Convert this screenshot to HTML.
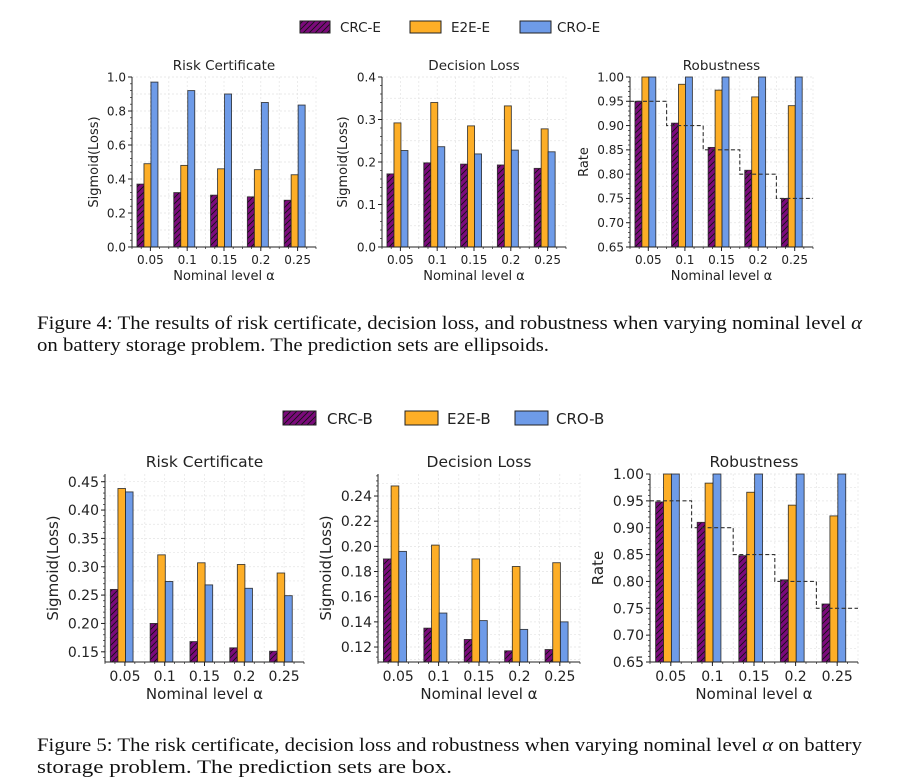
<!DOCTYPE html>
<html><head><meta charset="utf-8"><style>
body{margin:0;background:#fff;width:910px;height:778px;overflow:hidden}
svg{display:block}
.t{font-family:"DejaVu Sans","Liberation Sans",sans-serif;fill:#222}
.cap{font-family:"Liberation Serif",serif;font-size:19px;fill:#111}
</style></head><body>
<svg id="fig" width="910" height="778" xmlns="http://www.w3.org/2000/svg">
<defs>
<pattern id="hatch" patternUnits="userSpaceOnUse" width="6" height="6">
<rect width="6" height="6" fill="#7b0a7b"/>
<path d="M-1,7 L7,-1 M-1,1 L1,-1 M5,7 L7,5" stroke="#111" stroke-width="0.9"/>
</pattern>
</defs>
<g>
<rect x="300" y="21" width="30" height="12" fill="url(#hatch)" stroke="#222"/>
<text class="t" x="340" y="32" font-size="13.5">CRC-E</text>
<rect x="410" y="21" width="31" height="12" fill="#fdae27" stroke="#222"/>
<text class="t" x="451" y="32" font-size="13.5">E2E-E</text>
<rect x="520" y="21" width="31" height="12" fill="#6e9be8" stroke="#222"/>
<text class="t" x="557" y="32" font-size="13.5">CRO-E</text>
</g>
<text class="cap" x="37" y="329" textLength="825" lengthAdjust="spacingAndGlyphs">Figure 4: The results of risk certificate, decision loss, and robustness when varying nominal level <tspan font-style="italic">α</tspan></text>
<text class="cap" x="37" y="351" textLength="512" lengthAdjust="spacingAndGlyphs">on battery storage problem. The prediction sets are ellipsoids.</text>
<g>
<rect x="283" y="411" width="33" height="14" fill="url(#hatch)" stroke="#222"/>
<text class="t" x="327" y="424" font-size="15">CRC-B</text>
<rect x="405" y="411" width="33" height="14" fill="#fdae27" stroke="#222"/>
<text class="t" x="447" y="424" font-size="15">E2E-B</text>
<rect x="515" y="411" width="33" height="14" fill="#6e9be8" stroke="#222"/>
<text class="t" x="556" y="424" font-size="15">CRO-B</text>
</g>
<text class="cap" x="37" y="751" textLength="825" lengthAdjust="spacingAndGlyphs">Figure 5: The risk certificate, decision loss and robustness when varying nominal level <tspan font-style="italic">α</tspan> on battery</text>
<text class="cap" x="37" y="773" textLength="415" lengthAdjust="spacingAndGlyphs">storage problem. The prediction sets are box.</text>
</svg>
<script>
const categories = ["0.05","0.1","0.15","0.2","0.25"];
const nominal = [0.95,0.9,0.85,0.8,0.75];
const ellRiskCRC = [0.37,0.32,0.305,0.295,0.275];
const ellRiskE2E = [0.49,0.48,0.46,0.455,0.425];
const ellRiskCRO = [0.97,0.92,0.90,0.85,0.835];
const ellDecCRC = [0.172,0.198,0.195,0.193,0.185];
const ellDecE2E = [0.292,0.34,0.285,0.332,0.278];
const ellDecCRO = [0.227,0.236,0.219,0.228,0.224];
const ellRobCRC = [0.95,0.905,0.855,0.808,0.75];
const ellRobE2E = [1.0,0.985,0.973,0.959,0.941];
const ellRobCRO = [1,1,1,1,1];
const boxRiskCRC = [0.26,0.20,0.168,0.157,0.151];
const boxRiskE2E = [0.438,0.321,0.307,0.304,0.289];
const boxRiskCRO = [0.432,0.274,0.268,0.262,0.249];
const boxDecCRC = [0.19,0.135,0.126,0.117,0.118];
const boxDecE2E = [0.248,0.201,0.19,0.184,0.187];
const boxDecCRO = [0.196,0.147,0.141,0.134,0.14];
const boxRobCRC = [0.948,0.91,0.848,0.803,0.758];
const boxRobE2E = [1.0,0.983,0.966,0.942,0.922];
const boxRobCRO = [1,1,1,1,1];
const ticksRiskTop = [0,0.2,0.4,0.6,0.8,1.0];
const ticksDecTop = [0,0.1,0.2,0.3,0.4];
const ticksRob = [0.65,0.70,0.75,0.80,0.85,0.90,0.95,1.00];
const ticksRiskBot = [0.15,0.20,0.25,0.30,0.35,0.40,0.45];
const ticksDecBot = [0.12,0.14,0.16,0.18,0.20,0.22,0.24];

const NS="http://www.w3.org/2000/svg";
const svg=document.getElementById('fig');
function mk(tag,attrs,parent){const e=document.createElementNS(NS,tag);for(const k in attrs)e.setAttribute(k,attrs[k]);(parent||svg).appendChild(e);return e;}

function panel(p){
  const g=mk('g',{});
  
  
  const n=categories.length, step=(p.x1-p.x0)/n;
  const xs=i=>p.x0+(i+0.5)*step;
  const ys=v=>p.yb-(v-p.ymin)/(p.ymax-p.ymin)*(p.yb-p.yt);
  for(let i=0;i<=2*n;i++){const x=p.x0+i*step/2;const l=mk('line',{x1:x,x2:x,y1:p.yt,y2:p.yb,stroke:'#e4e4e4','stroke-width':0.7,'stroke-dasharray':'2,2'},g);
    
    }
  const dt=p.ticks[1]-p.ticks[0];
  for(let v=p.ticks[0]-dt;v<=p.ymax+1e-9;v+=dt/2){if(v<p.ymin-1e-9)continue;const y=ys(v);const l=mk('line',{x1:p.x0,x2:p.x1,y1:y,y2:y,stroke:'#e4e4e4','stroke-width':0.7,'stroke-dasharray':'2,2'},g);
    
    }
  const series=[[p.a,'url(#hatch)','crc'],[p.b,'#fdae27','e2e'],[p.c,'#6e9be8','cro']];
  const offs=[-0.27,-0.08,0.11], bw=0.19;
  series.forEach((s,k)=>{s[0].forEach((v,i)=>{
    const cx=xs(i)+offs[k]*step, y=ys(v);
    const r=mk('rect',{x:cx-bw*step/2,y:y,width:bw*step,height:p.yb-y,fill:s[1],stroke:'#222','stroke-width':0.9,'stroke-opacity':0.85},g);
    
    
  });});
  if(p.step){let d='';nominal.forEach((v,i)=>{const xa=p.x0+i*step, xb=p.x0+(i+1)*step, y=ys(v);d+=(i?'L':'M')+xa+','+y+'L'+xb+','+y;});
    const l=mk('path',{d:d,fill:'none',stroke:'#333','stroke-width':1.1,'stroke-dasharray':'4,2.5'},g);
    
    }
  const sp=mk('path',{d:`M${p.x0},${p.yt}L${p.x0},${p.yb}L${p.x1},${p.yb}`,fill:'none',stroke:'#222','stroke-width':1},g);
  
  
  p.ticks.forEach(v=>{const y=ys(v);mk('line',{x1:p.x0-4,x2:p.x0,y1:y,y2:y,stroke:'#222'},g);
    const t=mk('text',{x:p.x0-6,y:y+p.fs*0.36,'text-anchor':'end','font-size':p.fs,class:'t'},g);t.textContent=v.toFixed(p.dec);
    
    });
  for(let v=p.ticks[0]-dt;v<=p.ymax+1e-9;v+=dt/5){if(v<p.ymin-1e-9)continue;const y=ys(v);mk('line',{x1:p.x0-2,x2:p.x0,y1:y,y2:y,stroke:'#222','stroke-width':0.7},g);}
  categories.forEach((c,i)=>{const x=xs(i);mk('line',{x1:x,x2:x,y1:p.yb,y2:p.yb+4,stroke:'#222'},g);
    const t=mk('text',{x:x,y:p.yb+p.fs+5,'text-anchor':'middle','font-size':p.fs,class:'t'},g);t.textContent=c;
    
    });
  for(let i=0;i<=4*n;i++){const x=p.x0+i*step/4;mk('line',{x1:x,x2:x,y1:p.yb,y2:p.yb+2,stroke:'#222','stroke-width':0.7},g);}
  const xl=mk('text',{x:(p.x0+p.x1)/2,y:p.yb+p.fs*2+9,'text-anchor':'middle','font-size':p.fs+1,class:'t'},g);xl.textContent='Nominal level α';
  
  
  const yl=mk('text',{x:0,y:0,'text-anchor':'middle','font-size':p.fs+1,class:'t',transform:`translate(${p.ylx},${(p.yt+p.yb)/2}) rotate(-90)`},g);yl.textContent=p.ylabel;
  
  
  const ti=mk('text',{x:(p.x0+p.x1)/2,y:p.yt-7,'text-anchor':'middle','font-size':p.fs+1.5,class:'t'},g);ti.textContent=p.title;
  
  
}
const T={yt:77,yb:247,fs:12};
panel({...T,name:'ellipsoid-risk-certificate-chart',x0:132,x1:316,ymin:0,ymax:1,ticks:ticksRiskTop,dec:1,a:ellRiskCRC,b:ellRiskE2E,c:ellRiskCRO,title:'Risk Certificate',ylabel:'Sigmoid(Loss)',ylx:98});
panel({...T,name:'ellipsoid-decision-loss-chart',x0:382,x1:566,ymin:0,ymax:0.4,ticks:ticksDecTop,dec:1,a:ellDecCRC,b:ellDecE2E,c:ellDecCRO,title:'Decision Loss',ylabel:'Sigmoid(Loss)',ylx:347});
panel({...T,name:'ellipsoid-robustness-chart',x0:630,x1:813,ymin:0.65,ymax:1.0,ticks:ticksRob,dec:2,a:ellRobCRC,b:ellRobE2E,c:ellRobCRO,title:'Robustness',ylabel:'Rate',ylx:588,step:true});
const B={yb:662,fs:14};
panel({...B,name:'box-risk-certificate-chart',yt:474,x0:105,x1:304,ymin:0.132,ymax:0.4636,ticks:ticksRiskBot,dec:2,a:boxRiskCRC,b:boxRiskE2E,c:boxRiskCRO,title:'Risk Certificate',ylabel:'Sigmoid(Loss)',ylx:58});
panel({...B,name:'box-decision-loss-chart',yt:474,x0:378,x1:580,ymin:0.1081,ymax:0.2575,ticks:ticksDecBot,dec:2,a:boxDecCRC,b:boxDecE2E,c:boxDecCRO,title:'Decision Loss',ylabel:'Sigmoid(Loss)',ylx:331});
panel({...B,name:'box-robustness-chart',yt:474,x0:650,x1:858,ymin:0.65,ymax:1.0,ticks:ticksRob,dec:2,a:boxRobCRC,b:boxRobE2E,c:boxRobCRO,title:'Robustness',ylabel:'Rate',ylx:603,step:true});
</script>
</body></html>
